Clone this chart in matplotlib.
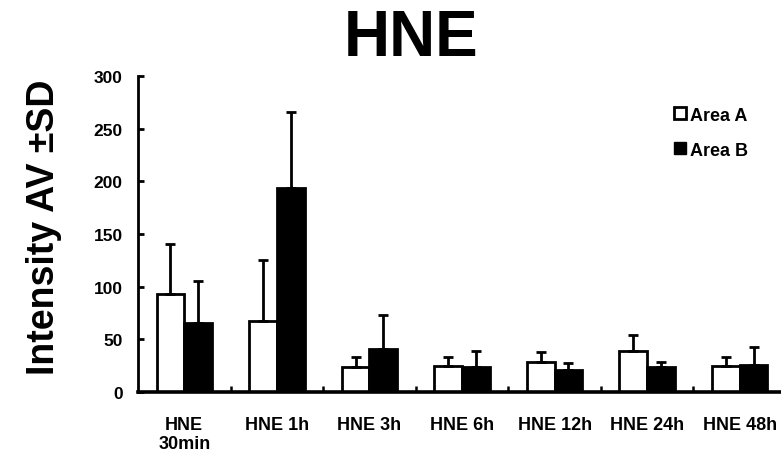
import matplotlib.pyplot as plt
import numpy as np
from matplotlib.lines import Line2D

plt.rcParams['font.family'] = ['Liberation Sans', 'DejaVu Sans']
plt.rcParams['font.weight'] = 'bold'

groups = ["HNE\n30min", "HNE 1h", "HNE 3h", "HNE 6h", "HNE 12h", "HNE 24h", "HNE 48h"]
area_a = [93, 67, 24, 25, 29, 39, 25]
area_a_sd = [48, 58, 9, 8, 9, 15, 8]
area_b = [66, 194, 41, 24, 21, 24, 26]
area_b_sd = [39, 72, 32, 15, 7, 5, 17]

x = np.arange(len(groups))
w = 0.3

fig = plt.figure(figsize=(7.81, 4.56), dpi=100)
ax = fig.add_axes([0.1767, 0.138, 0.8297, 0.693])

err_kw = dict(ecolor='black', elinewidth=2, capsize=3.5, capthick=2)
ax.bar(x - w / 2, area_a, w, color='white', edgecolor='black', linewidth=2,
       yerr=[np.zeros(len(x)), area_a_sd], error_kw=err_kw, zorder=2)
ax.bar(x + w / 2, area_b, w, color='black', edgecolor='black', linewidth=2,
       yerr=[np.zeros(len(x)), area_b_sd], error_kw=err_kw, zorder=2)

ax.set_xlim(-0.5, len(groups) - 0.5)
ax.set_ylim(0, 300)
ax.set_yticks(range(0, 301, 50))
ax.set_xticks(x)
ax.set_xticklabels(groups, fontsize=13, fontweight='bold')
ax.set_xticks(np.arange(0.5, len(groups) - 1, 1), minor=True)
ax.tick_params(axis='x', which='major', length=0, pad=17)
ax.tick_params(axis='x', which='minor', direction='in', length=4, width=1.8)
ax.tick_params(axis='y', direction='in', length=4, width=2, pad=11, labelsize=12.5)
for lbl in ax.get_yticklabels():
    lbl.set_fontweight('bold')

for s in ['top', 'right']:
    ax.spines[s].set_visible(False)
ax.spines['left'].set_linewidth(2)
ax.spines['bottom'].set_linewidth(2.6)

ax.set_ylabel("Intensity AV \u00b1SD", fontsize=27, fontweight='bold')
ax.yaxis.set_label_coords(-0.118, 0.525)
fig.text(0.526, 0.915, "HNE", fontsize=46, fontweight='bold', ha='center', va='center')

handles = [
    Line2D([], [], marker='s', linestyle='none', markersize=9, markerfacecolor='white',
           markeredgecolor='black', markeredgewidth=2),
    Line2D([], [], marker='s', linestyle='none', markersize=9, markerfacecolor='black',
           markeredgecolor='black'),
]
ax.legend(handles, ["Area A", "Area B"], loc='upper right', bbox_to_anchor=(0.967, 0.955),
          frameon=False, prop={'weight': 'bold', 'size': 13}, handlelength=0.6,
          handletextpad=0.25, labelspacing=1.0)

fig.savefig("out.png", dpi=100)
